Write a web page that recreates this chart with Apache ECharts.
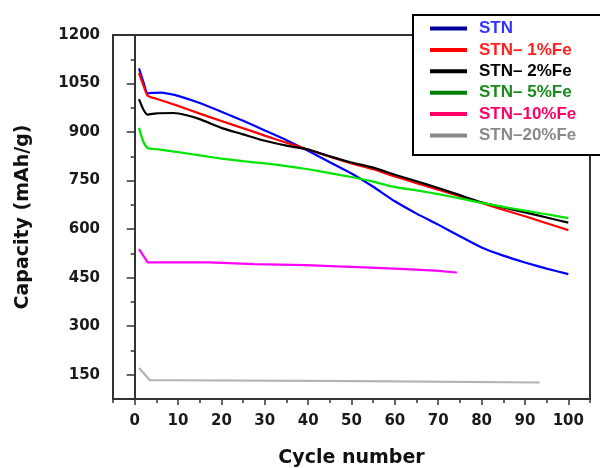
<!DOCTYPE html>
<html>
<head>
<meta charset="utf-8">
<script src="https://cdn.jsdelivr.net/npm/echarts@6/dist/echarts.min.js"></script>
<style>
  html, body { margin: 0; padding: 0; background: #fff; }
  #chart { width: 600px; height: 468px; }
</style>
</head>
<body>
<div id="chart"></div>
<script>
// capacity (mAh/g) vs cycle number
const stnCycles = [1, 2, 3, 4, 6, 8, 10, 15, 20, 25, 30, 35, 40, 45, 50, 55, 60, 65, 70, 75, 80, 85, 90, 95, 100];
const stnCap = [1097, 1055, 1020, 1021, 1022, 1018, 1012, 990, 963, 935, 905, 875, 842, 807, 772, 731, 686, 648, 614, 578, 543, 518, 497, 478, 461];

const fe1Cycles = [1, 2, 3, 5, 10, 15, 20, 25, 30, 35, 40, 45, 50, 55, 60, 65, 70, 75, 80, 85, 90, 95, 100];
const fe1Cap = [1082, 1045, 1012, 1003, 981, 957, 934, 912, 889, 867, 846, 824, 803, 785, 763, 742, 722, 702, 681, 660, 640, 618, 597];

const fe2Cycles = [1, 2, 3, 5, 9, 12, 15, 20, 25, 30, 35, 40, 45, 50, 55, 60, 65, 70, 75, 80, 85, 90, 95, 100];
const fe2Cap = [1002, 970, 954, 958, 959, 952, 940, 913, 893, 873, 858, 846, 825, 806, 790, 768, 748, 727, 705, 683, 667, 652, 636, 620];

const fe5Cycles = [1, 2, 3, 5, 10, 15, 20, 25, 30, 35, 40, 45, 50, 55, 60, 65, 70, 75, 80, 85, 90, 95, 100];
const fe5Cap = [913, 870, 851, 847, 838, 828, 818, 810, 803, 795, 785, 773, 761, 747, 730, 720, 708, 695, 681, 669, 657, 646, 634];

const fe10Cycles = [1, 3, 17.2, 17.6, 27.5, 27.9, 39.4, 39.8, 46.8, 47.2, 54.3, 54.7, 61.2, 61.6, 69.3, 69.7, 74.3];
const fe10Cap = [538, 497, 497, 492, 492, 489, 489, 485, 485, 481, 481, 477, 477, 472, 472, 467, 466];

const fe20Cycles = [1, 3.5, 9.4, 9.8, 52.4, 52.8, 93.4];
const fe20Cap = [171, 133, 133, 130, 130, 126, 126];

const seriesNames = ["STN", "STN\u2013 1%Fe", "STN\u2013 2%Fe", "STN\u2013 5%Fe", "STN\u201310%Fe", "STN\u201320%Fe"];
const xTicks = [0, 10, 20, 30, 40, 50, 60, 70, 80, 90, 100];
const yTicks = [150, 300, 450, 600, 750, 900, 1050, 1200];

const lineColors = ["#0000ff", "#ff0000", "#000000", "#00e600", "#ff00ff", "#b4b4b4"];
const legendLineColors = ["#000099", "#ff0000", "#000000", "#008000", "#ff0066", "#888888"];
const legendTextColors = ["#3333ff", "#ff2020", "#000000", "#1a8a1a", "#ff0066", "#8a8a8a"];

const pairs = (xs, ys) => xs.map((x, i) => [x, ys[i]]);
const allData = [
  pairs(stnCycles, stnCap),
  pairs(fe1Cycles, fe1Cap),
  pairs(fe2Cycles, fe2Cap),
  pairs(fe5Cycles, fe5Cap),
  pairs(fe10Cycles, fe10Cap),
  pairs(fe20Cycles, fe20Cap)
];

const chart = echarts.init(document.getElementById("chart"));
const axisColor = "#333";
const labelFont = {
  fontFamily: "DejaVu Sans", fontWeight: "bold", fontSize: 15, color: "#1a1a1a",
  formatter: v => String(v)
};

chart.setOption({
  animation: false,
  backgroundColor: "#fff",
  grid: {
    left: 113, right: 10, top: 35, bottom: 69,
    containLabel: false,
    outerBoundsMode: "none",
    show: true, borderColor: axisColor, borderWidth: 2
  },
  legend: {
    left: 413, top: 15,
    orient: "vertical",
    padding: [4, 120, 10, 17],
    backgroundColor: "#fff",
    borderColor: "#000",
    borderWidth: 2,
    borderRadius: 0,
    icon: "rect",
    itemWidth: 37,
    itemHeight: 4,
    itemGap: 2.4,
    textStyle: { fontFamily: "Liberation Sans", fontWeight: "bold", fontSize: 17, lineHeight: 19, padding: [0, 0, 0, 7] },
    data: seriesNames.map((n, i) => ({
      name: n,
      itemStyle: { color: legendLineColors[i] },
      textStyle: { color: legendTextColors[i] }
    }))
  },
  xAxis: [
    {
      type: "value", min: -5, max: 105,
      name: "Cycle number", nameLocation: "middle", nameGap: 50,
      nameTextStyle: { fontFamily: "DejaVu Sans", fontWeight: "bold", fontSize: 19, color: "#111" },
      axisLine: { lineStyle: { color: axisColor, width: 2 } },
      axisTick: { customValues: xTicks, length: 6, lineStyle: { color: axisColor, width: 1.5 } },
      axisLabel: Object.assign({ customValues: xTicks, margin: 15 }, labelFont),
      splitLine: { show: false }
    },
    {
      type: "value", min: -5, max: 105, interval: 5, position: "bottom",
      axisLine: { show: false },
      axisTick: { length: 4, lineStyle: { color: axisColor, width: 1.5 } },
      axisLabel: { show: false },
      splitLine: { show: false }
    }
  ],
  yAxis: [
    {
      type: "value", min: 75, max: 1200,
      name: "Capacity (mAh/g)", nameLocation: "middle", nameGap: 80,
      nameTextStyle: { fontFamily: "DejaVu Sans", fontWeight: "bold", fontSize: 19, color: "#111" },
      axisLine: { show: true, lineStyle: { color: axisColor, width: 2 } },
      axisTick: { show: true, customValues: yTicks, length: 8, lineStyle: { color: axisColor, width: 1.5 } },
      axisLabel: Object.assign({ customValues: yTicks, margin: 13 }, labelFont),
      splitLine: { show: false }
    },
    {
      type: "value", min: 75, max: 1200, interval: 75, position: "left",
      axisLine: { show: false },
      axisTick: { show: true, length: 4, lineStyle: { color: axisColor, width: 1.5 } },
      axisLabel: { show: false },
      splitLine: { show: false }
    }
  ],
  series: allData.map((d, i) => ({
    name: seriesNames[i],
    type: "line",
    data: d,
    showSymbol: false,
    smooth: i < 4 ? 0.2 : false,
    lineStyle: { color: lineColors[i], width: 2.2 },
    itemStyle: { color: lineColors[i] },
    z: 3
  }))
});
</script>
</body>
</html>
